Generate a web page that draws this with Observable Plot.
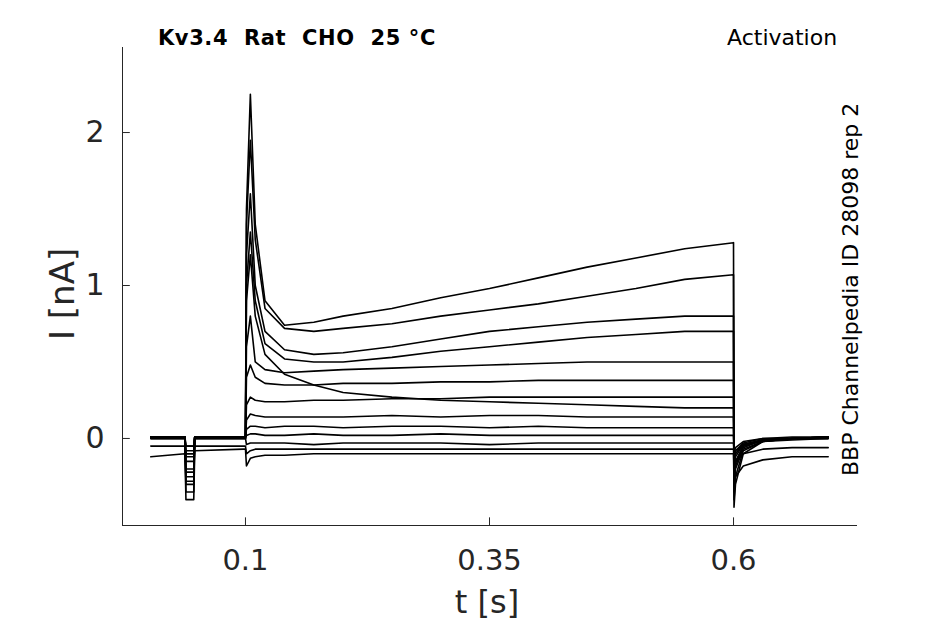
<!DOCTYPE html>
<html><head><meta charset="utf-8">
<script src="https://cdn.jsdelivr.net/npm/d3@7"></script>
<script src="https://cdn.jsdelivr.net/npm/@observablehq/plot@0.6"></script>
<style>
body{margin:0;background:#fff;font-family:"DejaVu Sans",sans-serif;}
#wrap{position:relative;width:945px;height:624px;}
.t{position:absolute;color:#000;white-space:nowrap;}
</style></head><body>
<div id="wrap">
<div class="t" style="left:158px;top:26px;font-size:21px;font-weight:bold;letter-spacing:0.6px;">Kv3.4&nbsp; Rat&nbsp; CHO&nbsp; 25 °C</div>
<div class="t" style="left:727px;top:25px;font-size:22px;">Activation</div>
<div class="t" style="left:838px;top:476px;font-size:22px;transform-origin:0 0;transform:rotate(-90deg);">BBP Channelpedia ID 28098 rep 2</div>
<div class="t" style="left:384px;top:584px;font-size:32px;line-height:36px;color:#262626;width:206px;text-align:center;">t [s]</div>
<div class="t" style="left:42px;top:340px;font-size:34px;color:#262626;transform-origin:0 0;transform:rotate(-90deg);">I [nA]</div>
</div>
<script>
const times = [0.003,0.038,0.039,0.047,0.048,0.098,0.1,0.101,0.105,0.11,0.12,0.14,0.17,0.2,0.25,0.3,0.35,0.4,0.45,0.5,0.55,0.6,0.6005,0.602,0.61,0.63,0.66,0.697];
const traces = [
 [0.01,0.01,-0.35,-0.35,0.01,0.01,0.01,1.5,2.25,1.4,0.9,0.74,0.76,0.8,0.85,0.92,0.98,1.05,1.12,1.18,1.24,1.28,-0.45,-0.3,-0.1,-0.02,0.0,0.01],
 [0.01,0.01,-0.3,-0.3,0.01,0.01,0.01,1.4,1.95,1.3,0.85,0.72,0.7,0.72,0.75,0.8,0.84,0.88,0.93,0.98,1.04,1.07,-0.4,-0.25,-0.08,-0.02,0.0,0.01],
 [0.01,0.01,-0.28,-0.28,0.01,0.01,0.01,1.2,1.6,1.0,0.7,0.58,0.55,0.56,0.6,0.65,0.7,0.73,0.76,0.78,0.8,0.8,-0.35,-0.2,-0.07,-0.02,0.0,0.01],
 [0.01,0.01,-0.25,-0.25,0.01,0.01,0.01,1.0,1.35,0.9,0.62,0.52,0.5,0.5,0.53,0.57,0.6,0.63,0.66,0.68,0.7,0.7,-0.3,-0.18,-0.06,-0.01,0.0,0.01],
 [0.01,0.01,-0.22,-0.22,0.01,0.01,0.01,0.9,1.2,0.8,0.55,0.42,0.35,0.3,0.27,0.25,0.24,0.23,0.22,0.21,0.2,0.2,-0.28,-0.16,-0.05,-0.01,0.0,0.01],
 [0.01,0.01,-0.2,-0.2,0.01,0.01,0.01,0.6,0.8,0.5,0.45,0.43,0.44,0.45,0.46,0.47,0.48,0.49,0.5,0.5,0.5,0.5,-0.25,-0.15,-0.05,-0.01,0.0,0.01],
 [0.0,0.0,-0.15,-0.15,0.0,0.0,0.0,0.4,0.48,0.4,0.36,0.35,0.35,0.36,0.36,0.37,0.37,0.38,0.38,0.38,0.38,0.38,-0.2,-0.12,-0.04,-0.01,0.0,0.0],
 [0.0,0.0,-0.12,-0.12,0.0,0.0,0.0,0.22,0.27,0.25,0.24,0.24,0.25,0.25,0.26,0.26,0.27,0.27,0.27,0.27,0.27,0.27,-0.18,-0.1,-0.04,-0.01,0.0,0.0],
 [0.01,0.01,-0.1,-0.1,0.01,0.01,0.01,0.12,0.16,0.15,0.14,0.14,0.14,0.14,0.15,0.14,0.15,0.15,0.14,0.14,0.14,0.14,-0.15,-0.1,-0.04,-0.01,0.0,0.01],
 [0.0,0.0,-0.08,-0.08,0.0,0.0,0.0,0.06,0.08,0.08,0.07,0.08,0.08,0.07,0.08,0.08,0.07,0.08,0.07,0.07,0.07,0.07,-0.12,-0.08,-0.03,0.0,0.0,0.0],
 [0.01,0.01,-0.05,-0.05,0.01,0.01,0.01,0.02,0.03,0.03,0.02,0.02,0.03,0.02,0.02,0.03,0.02,0.02,0.02,0.02,0.02,0.02,-0.1,-0.06,-0.02,0.0,0.01,0.01],
 [0.0,0.0,-0.05,-0.05,0.0,0.0,0.0,-0.04,-0.03,-0.03,-0.03,-0.03,-0.04,-0.03,-0.03,-0.03,-0.04,-0.03,-0.03,-0.03,-0.03,-0.03,-0.12,-0.08,-0.04,-0.02,-0.01,0.0],
 [-0.05,-0.05,-0.1,-0.1,-0.05,-0.05,-0.05,-0.1,-0.08,-0.07,-0.07,-0.07,-0.07,-0.07,-0.07,-0.07,-0.07,-0.07,-0.07,-0.07,-0.07,-0.07,-0.2,-0.15,-0.1,-0.07,-0.06,-0.06],
 [-0.12,-0.1,-0.4,-0.4,-0.08,-0.07,-0.07,-0.18,-0.13,-0.12,-0.11,-0.11,-0.1,-0.1,-0.1,-0.1,-0.1,-0.1,-0.1,-0.1,-0.1,-0.1,-0.3,-0.25,-0.18,-0.14,-0.12,-0.12]
];
const xTicks = [0.1,0.35,0.6];
const yTicks = [0,1,2];
const rows = traces.flatMap((v,k)=>v.map((y,i)=>({t:times[i],I:y,k})));
const yMin = -0.569, xMin = -0.026;
const chart = Plot.plot({
  width:945,height:624,
  marginLeft:122,marginRight:89,marginTop:47,marginBottom:99,
  style:{fontFamily:"DejaVu Sans",fontSize:"30px",color:"#262626",background:"transparent"},
  x:{domain:[xMin,0.726]},
  y:{domain:[yMin,2.556]},
  marks:[
    Plot.frame({anchor:"left",stroke:"#262626"}),
    Plot.frame({anchor:"bottom",stroke:"#262626"}),
    Plot.axisX({ticks:xTicks,tickSize:0,tickPadding:24,tickFormat:d=>String(d),label:null,fontSize:29}),
    Plot.axisY({ticks:yTicks,tickSize:0,tickPadding:18,tickFormat:d=>String(d),label:null,fontSize:30}),
    Plot.ruleX(xTicks,{x:d=>d,y1:yMin,y2:yMin+0.05,stroke:"#262626"}),
    Plot.ruleY(yTicks,{y:d=>d,x1:xMin,x2:xMin+0.008,stroke:"#262626"}),
    Plot.line(rows,{x:"t",y:"I",z:"k",stroke:"#000",strokeWidth:1.6,curve:"linear"})
  ]
});
document.getElementById("wrap").prepend(chart);
chart.style.position="absolute";chart.style.left="0";chart.style.top="0";
</script>
</body></html>
